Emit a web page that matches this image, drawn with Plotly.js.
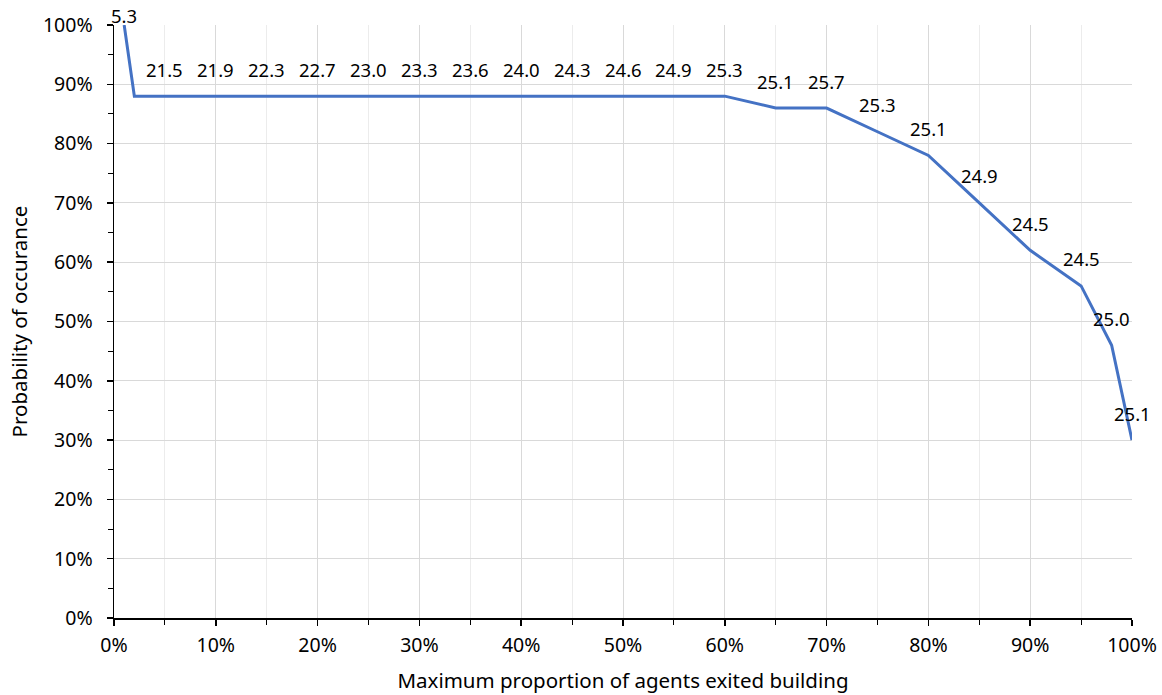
<!DOCTYPE html>
<html>
<head>
<meta charset="utf-8">
<script src="https://cdn.plot.ly/plotly-3.0.1.min.js"></script>
<style>html,body{margin:0;padding:0;background:#fff;}#chart{width:1162px;height:695px;}</style>
</head>
<body>
<div id="chart"></div>
<script>
// Maximum proportion of agents exited building (x) vs probability of occurrence (y)
const exitedProportion = [0.01, 0.02, 0.05, 0.10, 0.15, 0.20, 0.25, 0.30, 0.35, 0.40, 0.45, 0.50, 0.55, 0.60, 0.65, 0.70, 0.75, 0.80, 0.85, 0.90, 0.95, 0.98, 1.00];
const probability = [1.00, 0.88, 0.88, 0.88, 0.88, 0.88, 0.88, 0.88, 0.88, 0.88, 0.88, 0.88, 0.88, 0.88, 0.86, 0.86, 0.82, 0.78, 0.70, 0.62, 0.56, 0.46, 0.30];
const pointLabels = ["5.3", "", "21.5", "21.9", "22.3", "22.7", "23.0", "23.3", "23.6", "24.0", "24.3", "24.6", "24.9", "25.3", "25.1", "25.7", "25.3", "25.1", "24.9", "24.5", "24.5", "25.0", "25.1"];

const FONT = "Noto Sans, Open Sans, sans-serif";

const annotations = exitedProportion.map((x, i) => ({
  x: x, y: probability[i], xref: 'x', yref: 'y',
  text: pointLabels[i], showarrow: false,
  yshift: i === 0 ? 10 : 27,
  font: {family: FONT, size: 18.5, color: '#000'}
})).filter(a => a.text !== "");

const trace = {
  x: exitedProportion,
  y: probability,
  type: 'scatter',
  mode: 'lines',
  line: {color: '#4472C4', width: 3},
  hoverinfo: 'x+y'
};

const layout = {
  width: 1162, height: 695,
  margin: {l: 114, r: 30, t: 25, b: 77},
  paper_bgcolor: '#fff', plot_bgcolor: '#fff',
  showlegend: false,
  font: {family: FONT, size: 19.5, color: '#000'},
  xaxis: {
    range: [0, 1], dtick: 0.1, tick0: 0, tickformat: '.0%',
    showgrid: true, gridcolor: '#d9d9d9', gridwidth: 1,
    zeroline: false,
    showline: true, linecolor: '#000', linewidth: 1.5,
    ticks: 'outside', ticklen: 6, tickcolor: '#000', tickwidth: 1.5,
    ticklabelstandoff: 3,
    minor: {dtick: 0.05, showgrid: true, gridcolor: '#ececec', gridwidth: 1, ticks: 'outside', ticklen: 5, tickcolor: '#000', tickwidth: 1},
    tickfont: {family: FONT, size: 19.5},
    title: {text: 'Maximum proportion of agents exited building', font: {family: FONT, size: 20.5}, standoff: 16}
  },
  yaxis: {
    range: [0, 1], dtick: 0.1, tick0: 0, tickformat: '.0%',
    showgrid: true, gridcolor: '#d9d9d9', gridwidth: 1,
    zeroline: false,
    showline: true, linecolor: '#000', linewidth: 1.5,
    ticks: 'outside', ticklen: 6, tickcolor: '#000', tickwidth: 1.5,
    ticklabelstandoff: 10,
    minor: {dtick: 0.05, showgrid: false, ticks: 'outside', ticklen: 5, tickcolor: '#000', tickwidth: 1},
    tickfont: {family: FONT, size: 19.5},
    title: {text: 'Probability of occurance', font: {family: FONT, size: 20.5}, standoff: 10}
  },
  annotations: annotations
};

Plotly.newPlot('chart', [trace], layout, {displayModeBar: false, staticPlot: true});
</script>
</body>
</html>
